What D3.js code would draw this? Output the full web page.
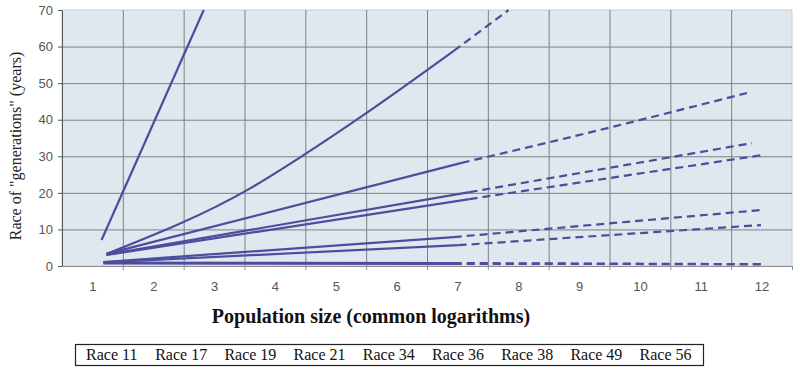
<!DOCTYPE html>
<html>
<head>
<meta charset="utf-8">
<script src="https://cdn.jsdelivr.net/npm/d3@7"></script>
<style>
  body { margin: 0; background: #fff; }
  svg { display: block; }
</style>
</head>
<body>
<svg id="chart" width="800" height="376"></svg>
<script>
// legend order as printed under the chart
var races = ["Race 11", "Race 17", "Race 19", "Race 21", "Race 34", "Race 36", "Race 38", "Race 49", "Race 56"];
var xTicks = [1, 2, 3, 4, 5, 6, 7, 8, 9, 10, 11, 12];
var yTicks = [0, 10, 20, 30, 40, 50, 60, 70];

// observed part of each line (solid), [log population, years]
var observed = [
  [[1.15, 7.1], [2.83, 70]],
  [[1.23, 3.3], [3.6, 21.3], [4.47, 30.3], [5.46, 41.3], [6.94, 58.8]],
  [[1.23, 3.3], [7.07, 28.2]],
  [[1.23, 3.1], [7.2, 20.2]],
  [[1.23, 3.0], [7.2, 18.3]],
  [[1.18, 1.1], [6.94, 7.9]],
  [[1.18, 1.0], [7.02, 5.7]],
  [[1.18, 0.9], [6.94, 0.8]],
  [[1.18, 0.7], [6.94, 0.6]]
];
// extrapolated part (dashed)
var projected = [
  [],
  [[6.94, 58.8], [7.84, 70]],
  [[7.07, 28.2], [8.45, 33.6], [11.76, 47.3]],
  [[7.2, 20.2], [11.84, 33.6]],
  [[7.2, 18.3], [12.04, 30.4]],
  [[6.94, 7.9], [11.99, 15.3]],
  [[7.02, 5.7], [11.99, 11.2]],
  [[6.94, 0.8], [11.99, 0.5]],
  [[6.94, 0.6], [11.99, 0.5]]
];

var svg = d3.select("#chart");
var margin = {top: 10, right: 8, bottom: 110, left: 62};
var width = +svg.attr("width") - margin.left - margin.right;
var height = +svg.attr("height") - margin.top - margin.bottom;
var g = svg.append("g").attr("transform", "translate(" + margin.left + "," + margin.top + ")");

var x = d3.scaleLinear().domain([0.5, 12.5]).range([0, width]);
var y = d3.scaleLinear().domain([0, 70]).range([height, 0]);

var lineColor = "#4d4d9c";
var gridColor = "#7b8087";

// plot area
g.append("rect")
    .attr("width", width)
    .attr("height", height)
    .attr("fill", "#e1e7ef")
    .attr("stroke", "#c9ced5");

// horizontal grid
g.append("g")
    .attr("class", "grid grid--y")
    .call(d3.axisLeft(y).tickValues(yTicks.slice(1, -1)).tickSize(-width).tickFormat(""))
    .call(function(s) { s.select(".domain").remove(); })
    .selectAll("line").attr("stroke", gridColor);

// vertical grid (category boundaries)
var bounds = xTicks.slice(0, -1).map(function(d) { return d + 0.5; });
g.append("g")
    .attr("class", "grid grid--x")
    .attr("transform", "translate(0," + height + ")")
    .call(d3.axisBottom(x).tickValues(bounds).tickSize(-height).tickFormat(""))
    .call(function(s) { s.select(".domain").remove(); })
    .selectAll("line").attr("stroke", gridColor);

// x axis: boundary ticks + centred labels
var xAxis = g.append("g")
    .attr("class", "axis axis--x")
    .attr("transform", "translate(0," + height + ")")
    .call(d3.axisBottom(x).tickValues(bounds.concat([12.5])).tickSize(4).tickSizeOuter(0).tickFormat(""));
xAxis.select(".domain").attr("stroke", "#8a8f96");
xAxis.selectAll("line").attr("stroke", "#8a8f96");

g.append("g")
    .attr("class", "axis axis--xlabels")
    .attr("transform", "translate(0," + height + ")")
    .call(d3.axisBottom(x).tickValues(xTicks).tickSize(0).tickPadding(16).tickFormat(d3.format("d")))
    .call(function(s) { s.select(".domain").remove(); })
    .selectAll("text")
      .attr("fill", "#555")
      .style("font-family", "Liberation Sans, Arial, sans-serif")
      .style("font-size", "13px");

// y axis
var yAxis = g.append("g")
    .attr("class", "axis axis--y")
    .call(d3.axisLeft(y).tickValues(yTicks).tickSize(4).tickSizeOuter(0).tickPadding(5));
yAxis.select(".domain").attr("stroke", "#555");
yAxis.selectAll("line").attr("stroke", "#555");
yAxis.selectAll("text")
    .attr("fill", "#555")
    .style("font-family", "Liberation Sans, Arial, sans-serif")
    .style("font-size", "13px");

// lines
var line = d3.line()
    .x(function(d) { return x(d[0]); })
    .y(function(d) { return y(d[1]); })
    .curve(d3.curveMonotoneX);

g.append("g").selectAll("path.observed")
  .data(observed)
  .enter().append("path")
    .attr("class", "observed")
    .attr("d", line)
    .attr("fill", "none")
    .attr("stroke", lineColor)
    .attr("stroke-width", 2.2);

g.append("g").selectAll("path.projected")
  .data(projected.filter(function(p) { return p.length; }))
  .enter().append("path")
    .attr("class", "projected")
    .attr("d", line)
    .attr("fill", "none")
    .attr("stroke", lineColor)
    .attr("stroke-width", 2.2)
    .attr("stroke-dasharray", "8,5");

// axis titles
svg.append("text")
    .attr("transform", "translate(21," + (margin.top + height / 2 + 8) + ") rotate(-90)")
    .attr("text-anchor", "middle")
    .style("font-family", "Liberation Serif, Times New Roman, serif")
    .style("font-size", "16px")
    .attr("fill", "#222")
    .text("Race of \"generations\" (years)");

svg.append("text")
    .attr("x", 371)
    .attr("y", 323)
    .attr("text-anchor", "middle")
    .style("font-family", "Liberation Serif, Times New Roman, serif")
    .style("font-size", "20px")
    .style("font-weight", "bold")
    .attr("fill", "#111")
    .text("Population size (common logarithms)");

// legend (text only)
var legend = svg.append("g").attr("class", "legend");
legend.append("rect")
    .attr("x", 75.5)
    .attr("y", 344.5)
    .attr("width", 628)
    .attr("height", 21)
    .attr("fill", "#fff")
    .attr("stroke", "#222")
    .attr("stroke-width", 1.2);

var lx = d3.scaleBand().domain(races).range([86, 86 + 69.2 * races.length]);
legend.selectAll("text")
  .data(races)
  .enter().append("text")
    .attr("x", function(d) { return lx(d); })
    .attr("y", 360)
    .style("font-family", "Liberation Serif, Times New Roman, serif")
    .style("font-size", "16px")
    .attr("fill", "#111")
    .text(function(d) { return d; });
</script>
</body>
</html>
